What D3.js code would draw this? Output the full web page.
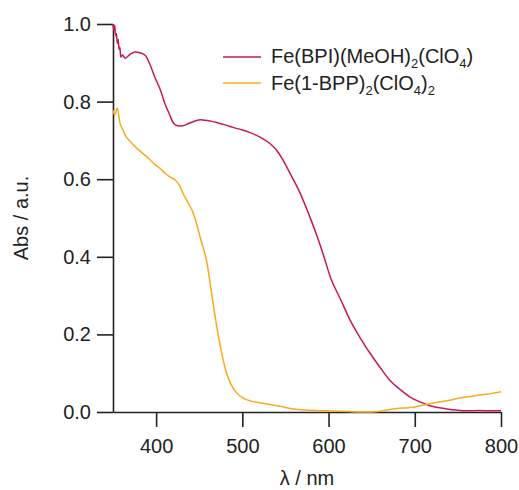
<!DOCTYPE html>
<html>
<head>
<meta charset="utf-8">
<script src="https://cdn.jsdelivr.net/npm/d3@7"></script>
<style>
  body { margin: 0; background: #fff; }
  text { font-family: "Liberation Sans", Arial, sans-serif; fill: #222; }
</style>
</head>
<body>
<div id="chart"></div>
<script>
// spectra (wavelength nm, absorbance)
var bpiWl  = [350, 351, 352, 353, 354, 355, 356, 357, 358, 359, 361, 364, 370, 376, 381, 387, 393, 399, 405, 410, 415, 420, 425, 430, 437, 445, 452, 457, 465, 472, 480, 490, 500, 509, 520, 532, 540, 547, 557, 567, 577, 587, 595, 602, 614, 625, 637, 648, 660, 671, 683, 694, 706, 715, 725, 737, 748, 760, 775, 790, 800];
var bpiAbs = [1.0, 0.985, 0.997, 0.97, 0.975, 0.95, 0.96, 0.935, 0.94, 0.915, 0.92, 0.912, 0.922, 0.928, 0.926, 0.92, 0.895, 0.86, 0.83, 0.796, 0.77, 0.745, 0.738, 0.737, 0.743, 0.75, 0.753, 0.752, 0.749, 0.745, 0.74, 0.733, 0.727, 0.72, 0.709, 0.692, 0.674, 0.65, 0.608, 0.564, 0.51, 0.451, 0.398, 0.348, 0.29, 0.237, 0.19, 0.152, 0.114, 0.082, 0.058, 0.039, 0.026, 0.018, 0.012, 0.008, 0.005, 0.003, 0.004, 0.003, 0.003];

var bppWl  = [350, 352, 355, 357, 358, 361, 364, 370, 376, 381, 387, 393, 399, 405, 410, 416, 422, 427, 431, 437, 443, 447, 451, 455, 459, 462, 465, 468, 471, 474, 477, 481, 486, 493, 501, 510, 520, 530, 545, 559, 575, 598, 625, 651, 675, 700, 721, 740, 752, 765, 776, 790, 800];
var bppAbs = [0.778, 0.765, 0.783, 0.76, 0.745, 0.73, 0.714, 0.697, 0.683, 0.673, 0.662, 0.65, 0.637, 0.627, 0.616, 0.606, 0.598, 0.585, 0.564, 0.54, 0.513, 0.485, 0.451, 0.42, 0.384, 0.342, 0.296, 0.253, 0.211, 0.175, 0.142, 0.105, 0.075, 0.05, 0.036, 0.028, 0.024, 0.02, 0.014, 0.008, 0.005, 0.003, 0.001, 0.0, 0.008, 0.013, 0.023, 0.03, 0.036, 0.04, 0.044, 0.048, 0.052];

var xTicks = [400, 500, 600, 700, 800];
var yTicks = [0.0, 0.2, 0.4, 0.6, 0.8, 1.0];

var series = [
  {name: "bpi", wl: bpiWl, abs: bpiAbs, color: "#c8175c"},
  {name: "bpp", wl: bppWl, abs: bppAbs, color: "#f6ab1f"}
];

var width = 519, height = 490;
var fontSize = "20px", subSize = "13px";
var svg = d3.select("#chart").append("svg")
  .attr("width", width)
  .attr("height", height);

var x = d3.scaleLinear().domain([350, 800]).range([113, 501]);
var y = d3.scaleLinear().domain([0, 1]).range([412, 24]);

// axes
var xAxis = svg.append("g")
  .attr("transform", "translate(0,412)")
  .call(d3.axisBottom(x).tickValues(xTicks).tickSize(15).tickSizeOuter(0).tickPadding(12).tickFormat(d3.format("d")));
var yAxis = svg.append("g")
  .attr("transform", "translate(113,0)")
  .call(d3.axisLeft(y).tickValues(yTicks).tickSize(16).tickSizeOuter(0).tickPadding(6).tickFormat(d3.format(".1f")));

[xAxis, yAxis].forEach(function(g){
  g.select(".domain").attr("stroke", "#222").attr("stroke-width", 1.6);
  g.selectAll(".tick line").attr("stroke", "#222").attr("stroke-width", 1.6);
  g.selectAll(".tick text").style("font-size", fontSize).attr("fill", "#222");
});

// lines
var line = d3.line()
  .x(function(d){ return x(d[0]); })
  .y(function(d){ return y(d[1]); })
  .curve(d3.curveMonotoneX);

series.forEach(function(s){
  var pts = s.wl.map(function(w, i){ return [w, s.abs[i]]; });
  svg.append("path")
    .datum(pts)
    .attr("fill", "none")
    .attr("stroke", s.color)
    .attr("stroke-width", 1.5)
    .attr("d", line);
});

// axis titles
svg.append("text")
  .attr("x", 307).attr("y", 485)
  .attr("text-anchor", "middle")
  .style("font-size", fontSize)
  .text("λ / nm");
svg.append("text")
  .attr("transform", "translate(28,218) rotate(-90)")
  .attr("text-anchor", "middle")
  .style("font-size", fontSize)
  .text("Abs / a.u.");

// legend
var legY = [57, 83];
series.forEach(function(s, i){
  svg.append("line")
    .attr("x1", 223).attr("x2", 261)
    .attr("y1", legY[i]).attr("y2", legY[i])
    .attr("stroke", s.color).attr("stroke-width", 1.6);
});

function sub(t, txt){
  t.append("tspan").attr("dy", 5).style("font-size", subSize).text(txt);
}
function up(t, txt){
  t.append("tspan").attr("dy", -5).text(txt);
}

var leg1 = svg.append("text").attr("x", 271).attr("y", 63).style("font-size", fontSize);
leg1.append("tspan").text("Fe(BPI)(MeOH)");
sub(leg1, "2"); up(leg1, "(ClO"); sub(leg1, "4"); up(leg1, ")");

var leg2 = svg.append("text").attr("x", 271).attr("y", 90).style("font-size", fontSize);
leg2.append("tspan").text("Fe(1-BPP)");
sub(leg2, "2"); up(leg2, "(ClO"); sub(leg2, "4"); up(leg2, ")"); sub(leg2, "2");
</script>
</body>
</html>
